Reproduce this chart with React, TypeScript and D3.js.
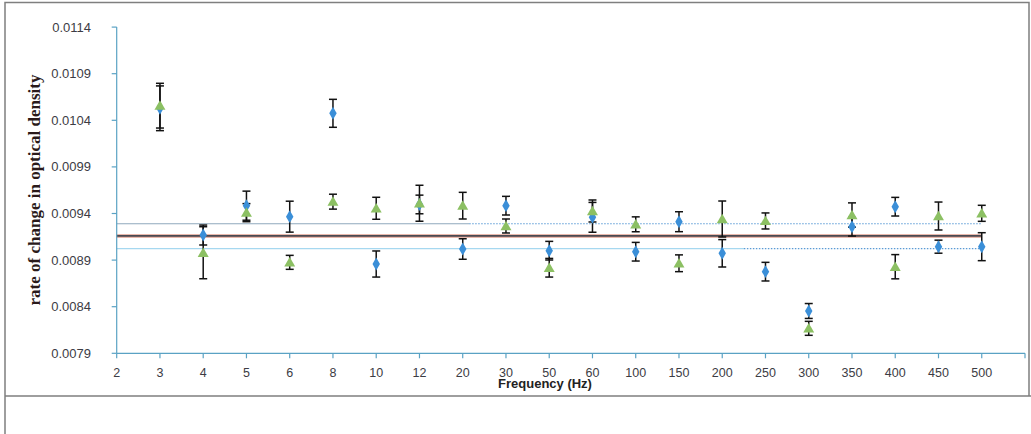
import React from "react";
import * as d3 from "d3";

// frequency categories (Hz)
const frequencies = ["2", "3", "4", "5", "6", "8", "10", "12", "20", "30", "50", "60", "100", "150", "200", "250", "300", "350", "400", "450", "500"];

// series values (null = no point at that category)
const blueValues = [null, 0.010529, 0.009169, 0.009484, 0.009366, 0.010475, 0.008858, 0.009497, 0.009019, 0.009484, 0.009001, 0.009359, 0.00899, 0.009312, 0.008973, 0.008776, 0.008354, 0.009258, 0.009473, 0.009044, 0.009044];
const blueErrors = [null, 0.00024, 0.000107, 0.000156, 0.000166, 0.00015, 0.00014, 0.0001, 0.00011, 0.0001, 0.0001, 0.00016, 0.0001, 0.000107, 0.000147, 0.0001, 0.00008, 0.0001, 0.0001, 0.00007, 0.00015];
const greenValues = [null, 0.010557, 0.008979, 0.009409, 0.008876, 0.009527, 0.009456, 0.00951, 0.009484, 0.009266, 0.008818, 0.009427, 0.009284, 0.008866, 0.009341, 0.00932, 0.008168, 0.009384, 0.008829, 0.009373, 0.009402];
const greenErrors = [null, 0.00024, 0.000279, 0.000097, 0.000075, 0.00008, 0.000118, 0.000193, 0.000143, 0.000075, 0.0001, 0.000118, 0.00008, 0.00009, 0.000193, 0.000086, 0.000075, 0.00013, 0.00013, 0.00015, 0.000086];

// reference lines
const meanLine = 0.009159;
const upperLine = 0.00929;
const lowerLine = 0.009024;

// y tick labels
const yTicks = [0.0079, 0.0084, 0.0089, 0.0094, 0.0099, 0.0104, 0.0109, 0.0114];

const axisColor = "#5aa2c4";
const labelColor = "#3c3c44";

export default function App() {
  const x = d3.scaleLinear().domain([0, 21]).range([116.7, 1025]);
  const y = d3.scaleLinear().domain([0.0079, 0.0114]).range([353.3, 27.1]);

  const last = frequencies.length - 1;
  const diamond = d3.symbol().type(d3.symbolDiamond).size(48)();
  const triangle = d3.symbol().type(d3.symbolTriangle).size(52)();

  const errorBar = (i: number, v: number | null, e: number | null, key: string) => {
    if (v == null || e == null) return null;
    const cx = x(i);
    const top = y(v + e);
    const bot = y(v - e);
    return (
      <g key={key} stroke="#111" strokeWidth={1.5}>
        <line x1={cx} x2={cx} y1={top} y2={bot} />
        <line x1={cx - 4} x2={cx + 4} y1={top} y2={top} />
        <line x1={cx - 4} x2={cx + 4} y1={bot} y2={bot} />
      </g>
    );
  };

  return (
    <svg width={1031} height={434} style={{ position: "absolute", left: 0, top: 0, background: "#fff" }}>
      {/* frame */}
      <path d="M5,434 V2.5 H1029 V396 M5,396 H1031" fill="none" stroke="#7f7f7f" strokeWidth={1.5} />

      {/* reference lines */}
      <line x1={x(0)} x2={x(8.15)} y1={y(upperLine)} y2={y(upperLine)} stroke="#8fa8bc" strokeWidth={1.2} />
      <line x1={x(8.15)} x2={x(last)} y1={y(upperLine)} y2={y(upperLine)} stroke="#5b9bd5" strokeWidth={1.2} strokeDasharray="1.5 1.5" />
      <line x1={x(0)} x2={x(14.5)} y1={y(lowerLine)} y2={y(lowerLine)} stroke="#a6d8f0" strokeWidth={1.2} />
      <line x1={x(14.5)} x2={x(last)} y1={y(lowerLine)} y2={y(lowerLine)} stroke="#5b9bd5" strokeWidth={1.2} strokeDasharray="1.5 1.5" />
      <line x1={x(0)} x2={x(last)} y1={y(meanLine)} y2={y(meanLine)} stroke="#e0a090" strokeWidth={3.5} />
      <line x1={x(0)} x2={x(last)} y1={y(meanLine)} y2={y(meanLine)} stroke="#4a4a52" strokeWidth={1.8} />

      {/* y axis */}
      <line x1={x(0)} x2={x(0)} y1={y(0.0114)} y2={y(0.0079)} stroke={axisColor} strokeWidth={1.2} />
      {yTicks.map((t) => (
        <g key={t}>
          <line x1={x(0) - 5} x2={x(0)} y1={y(t)} y2={y(t)} stroke={axisColor} strokeWidth={1.2} />
          <text x={91} y={y(t)} dy="0.35em" textAnchor="end" fontFamily="Liberation Sans, Arial, sans-serif" fontSize={13} fill={labelColor}>
            {t.toFixed(4)}
          </text>
        </g>
      ))}

      {/* x axis */}
      <line x1={x(0)} x2={x(21)} y1={y(0.0079)} y2={y(0.0079)} stroke={axisColor} strokeWidth={1.2} />
      {d3.range(22).map((i) => (
        <line key={i} x1={x(i)} x2={x(i)} y1={y(0.0079)} y2={y(0.0079) + 5} stroke={axisColor} strokeWidth={1.2} />
      ))}
      {frequencies.map((f, i) => (
        <text key={f} x={x(i)} y={377} textAnchor="middle" fontFamily="Liberation Sans, Arial, sans-serif" fontSize={12.5} fill={labelColor}>
          {f}
        </text>
      ))}

      {/* error bars */}
      {blueValues.map((v, i) => errorBar(i, v, blueErrors[i], "be" + i))}
      {greenValues.map((v, i) => errorBar(i, v, greenErrors[i], "ge" + i))}

      {/* markers */}
      {blueValues.map((v, i) =>
        v == null ? null : <path key={"b" + i} d={diamond!} transform={`translate(${x(i)},${y(v)})`} fill="#3b8fd8" />
      )}
      {greenValues.map((v, i) =>
        v == null ? null : <path key={"g" + i} d={triangle!} transform={`translate(${x(i)},${y(v) + 1})`} fill="#8cc063" />
      )}

      {/* axis titles */}
      <text x={545} y={388} textAnchor="middle" fontFamily="Liberation Sans, Arial, sans-serif" fontWeight="bold" fontSize={13} fill="#222">
        Frequency (Hz)
      </text>
      <text transform="translate(40,190) rotate(-90)" textAnchor="middle" fontFamily="Liberation Serif, serif" fontWeight="bold" fontSize={17} fill="#2a1a1a">
        rate of change in optical density
      </text>
    </svg>
  );
}
